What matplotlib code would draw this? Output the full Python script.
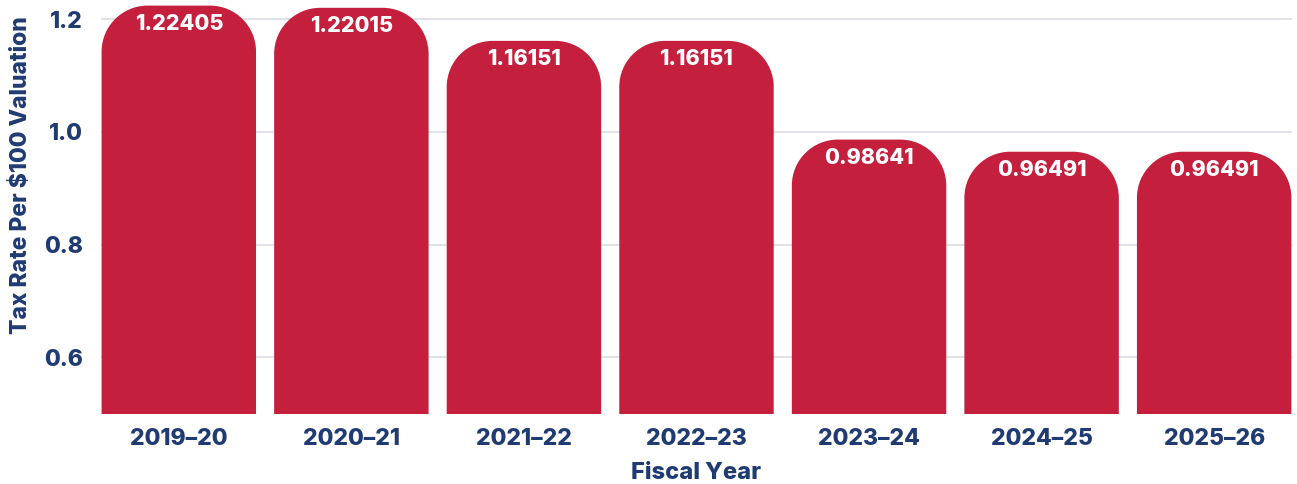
import matplotlib
matplotlib.use("Agg")
import matplotlib.pyplot as plt
from matplotlib.path import Path
from matplotlib.patches import PathPatch
import numpy as np

years = ["2019–20", "2020–21", "2021–22", "2022–23", "2023–24", "2024–25", "2025–26"]
rates = [1.22405, 1.22015, 1.16151, 1.16151, 0.98641, 0.96491, 0.96491]
labels = ["1.22405", "1.22015", "1.16151", "1.16151", "0.98641", "0.96491", "0.96491"]

red = "#C41F3D"
navy = "#1F3B72"
wt = 'heavy'

plt.rcParams['font.family'] = ['Inter', 'DejaVu Sans']

fig = plt.figure(figsize=(12.97, 4.84), dpi=100)
ax = fig.add_axes([0.078, 0.145, 0.918, 0.855])

x = np.arange(len(years))
ax.set_xlim(-0.45, len(years) - 0.55)
ax.set_ylim(0.5, 1.234)

bars = ax.bar(x, rates, width=0.895, bottom=0, color=red)
fig.canvas.draw()

# corner radius in pixels -> data units
r_px = 46
inv = ax.transData.inverted()
p0 = inv.transform((0, 0))
p1 = inv.transform((r_px, r_px))
rx, ry = p1[0] - p0[0], p1[1] - p0[1]

k = 0.5523
for b in bars:
    x0, w, h = b.get_x(), b.get_width(), b.get_height()
    x1 = x0 + w
    y0 = 0
    verts = [(x0, y0), (x0, h - ry),
             (x0, h - ry + k * ry), (x0 + rx - k * rx, h), (x0 + rx, h),
             (x1 - rx, h),
             (x1 - rx + k * rx, h), (x1, h - ry + k * ry), (x1, h - ry),
             (x1, y0), (x0, y0)]
    codes = [Path.MOVETO, Path.LINETO,
             Path.CURVE4, Path.CURVE4, Path.CURVE4,
             Path.LINETO,
             Path.CURVE4, Path.CURVE4, Path.CURVE4,
             Path.LINETO, Path.CLOSEPOLY]
    ax.add_patch(PathPatch(Path(verts, codes), facecolor=red, edgecolor='none', zorder=3))
    b.set_visible(False)

for xi, v, lab in zip(x, rates, labels):
    ax.annotate(lab, (xi, v), xytext=(0, -13), textcoords='offset points',
                ha='center', va='center', color='white', fontsize=15.5,
                fontweight=wt, zorder=4)

ax.set_yticks([0.6, 0.8, 1.0, 1.2])
ax.set_yticklabels(["0.6", "0.8", "1.0", "1.2"])
ax.set_xticks(x)
ax.set_xticklabels(years)
ax.grid(axis='y', color='#DADDE3', linewidth=1.2, zorder=0)
ax.set_axisbelow(True)
for s in ax.spines.values():
    s.set_visible(False)
ax.tick_params(length=0, labelsize=16.5, labelcolor=navy, pad=10)
for t in ax.get_xticklabels() + ax.get_yticklabels():
    t.set_fontweight(wt)
ax.tick_params(axis='y', pad=13)

ax.set_xlabel("Fiscal Year", fontsize=17, fontweight=wt, color=navy, labelpad=9)
ax.set_ylabel("Tax Rate Per $100 Valuation", fontsize=16.5, fontweight=wt, color=navy)
ax.yaxis.set_label_coords(-0.058, 0.578)

fig.savefig("out.png", dpi=100)
